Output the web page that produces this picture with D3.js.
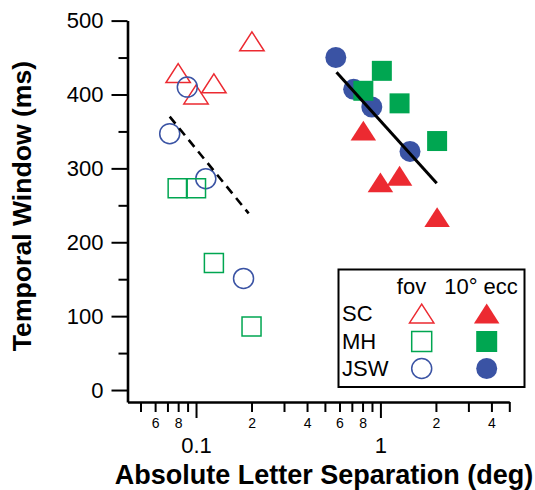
<!DOCTYPE html>
<html>
<head>
<meta charset="utf-8">
<script src="https://cdn.jsdelivr.net/npm/d3@7"></script>
<style>
  body { margin: 0; background: #fff; }
  text { font-family: "Liberation Sans", Arial, Helvetica, sans-serif; fill: #000; }
</style>
</head>
<body>
<div id="chart"></div>
<script>
// ---- data ----
// separation (deg) and temporal window (ms), per observer and condition
var scFovSep = [0.080, 0.100, 0.125, 0.201];
var scFovWin = [429, 400, 415, 472];
var scEccSep = [0.808, 1.00, 1.27, 2.03];
var scEccWin = [351, 281, 290, 234];

var mhFovSep = [0.0795, 0.100, 0.125, 0.200];
var mhFovWin = [273, 273, 172, 86];
var mhEccSep = [1.018, 0.808, 1.27, 2.03];
var mhEccWin = [432, 405, 388, 337];

var jswFovSep = [0.0897, 0.072, 0.113, 0.181];
var jswFovWin = [410, 347, 286, 151];
var jswEccSep = [0.573, 0.716, 0.898, 1.447];
var jswEccWin = [450, 407, 383, 323];

// regression lines (end points)
var fovFitSep = [0.072, 0.193];
var fovFitWin = [370, 239];
var eccFitSep = [0.578, 2.02];
var eccFitWin = [430, 280];

// ticks
var yTicks = [0, 100, 200, 300, 400, 500];
var yMinor = [50, 150, 250, 350, 450];
var xMajor = [0.1, 1];
var xMinor = [0.05, 0.06, 0.07, 0.08, 0.09, 0.2, 0.3, 0.4, 0.5, 0.6, 0.7, 0.8, 0.9, 2, 3, 4, 5];
var xMinorLabeled = [0.06, 0.08, 0.2, 0.4, 0.6, 0.8, 2, 4];

var legendNames = ["SC", "MH", "JSW"];
var legendHeads = ["fov", "10\u00b0 ecc"];

// ---- setup ----
var svgWidth = 535;
var svgHeight = 490;

var red = "#ec2a31";
var green = "#00a651";
var blue = "#3a53a4";

var svg = d3.select("#chart")
  .append("svg")
  .attr("width", svgWidth)
  .attr("height", svgHeight);

var x = d3.scaleLog()
  .domain([0.0425, 5])
  .range([127.5, 509.3]);

var y = d3.scaleLinear()
  .domain([-16.2, 500])
  .range([402, 20.6]);

// marker paths centred on 0,0
function shape(type, s) {
  var h = s / 2;
  if (type === "tri") {
    var w = s * 0.58;
    return "M0," + (-h * 0.9) + "L" + w + "," + (h * 0.9) + "L" + (-w) + "," + (h * 0.9) + "Z";
  }
  if (type === "sq") {
    return "M" + (-h) + "," + (-h) + "H" + h + "V" + h + "H" + (-h) + "Z";
  }
  return d3.arc()({innerRadius: 0, outerRadius: h, startAngle: 0, endAngle: 2 * Math.PI});
}

// ---- axes ----
var yAxisG = svg.append("g").attr("transform", "translate(127.5,0)");
yAxisG.call(d3.axisLeft(y).tickValues(yTicks).tickSize(16).tickSizeOuter(0).tickPadding(8));
var yMinorG = svg.append("g").attr("transform", "translate(127.5,0)");
yMinorG.call(d3.axisLeft(y).tickValues(yMinor).tickSize(9).tickFormat(""));
yMinorG.select(".domain").remove();

var xAxisG = svg.append("g").attr("transform", "translate(0,402)");
xAxisG.call(d3.axisBottom(x).tickValues(xMajor).tickSize(16).tickSizeOuter(0).tickFormat(d3.format("")));
xAxisG.selectAll("text").attr("y", 43).attr("dy", "0.35em").style("font-size", "22px");

var xMinorG = svg.append("g").attr("transform", "translate(0,402)");
xMinorG.call(d3.axisBottom(x).tickValues(xMinor).tickSize(10)
  .tickFormat(function(d) {
    if (xMinorLabeled.indexOf(d) < 0) return "";
    return d < 1 ? Math.round(d * (d < 0.1 ? 100 : 10)) : d;
  }));
xMinorG.select(".domain").remove();
xMinorG.selectAll("text").attr("y", 21).attr("dy", "0.35em").style("font-size", "14px");

svg.selectAll(".domain").attr("stroke", "#000").attr("stroke-width", 2.6);
svg.selectAll(".tick line").attr("stroke", "#000").attr("stroke-width", 2);
yAxisG.selectAll("text").style("font-size", "22px");
svg.selectAll(".tick text").attr("fill", "#000");

// axis titles
svg.append("text")
  .attr("transform", "translate(31,206) rotate(-90)")
  .attr("text-anchor", "middle")
  .style("font-size", "26.6px")
  .style("font-weight", "bold")
  .text("Temporal Window (ms)");

svg.append("text")
  .attr("x", 324)
  .attr("y", 484)
  .attr("text-anchor", "middle")
  .style("font-size", "27px")
  .style("font-weight", "bold")
  .text("Absolute Letter Separation (deg)");

// ---- points ----
function drawPoints(seps, wins, type, size, color, filled) {
  svg.append("g").selectAll("path")
    .data(seps.map(function(s, i) { return [s, wins[i]]; }))
    .enter()
    .append("path")
    .attr("transform", function(d) { return "translate(" + x(d[0]) + "," + y(d[1]) + ")"; })
    .attr("d", shape(type, size))
    .attr("fill", filled ? color : "none")
    .attr("stroke", filled ? "none" : color)
    .attr("stroke-width", 1.5);
}

drawPoints(scFovSep, scFovWin, "tri", 21, red, false);
drawPoints(jswFovSep, jswFovWin, "circ", 20, blue, false);
drawPoints(mhFovSep, mhFovWin, "sq", 19, green, false);

drawPoints(scEccSep, scEccWin, "tri", 22, red, true);
drawPoints(jswEccSep, jswEccWin, "circ", 21, blue, true);
drawPoints(mhEccSep, mhEccWin, "sq", 20, green, true);

// ---- fit lines ----
var line = d3.line()
  .x(function(d) { return x(d[0]); })
  .y(function(d) { return y(d[1]); });

svg.append("path")
  .attr("d", line(fovFitSep.map(function(s, i) { return [s, fovFitWin[i]]; })))
  .attr("fill", "none")
  .attr("stroke", "#000")
  .attr("stroke-width", 2.6)
  .attr("stroke-dasharray", "9,6");

svg.append("path")
  .attr("d", line(eccFitSep.map(function(s, i) { return [s, eccFitWin[i]]; })))
  .attr("fill", "none")
  .attr("stroke", "#000")
  .attr("stroke-width", 3);

// ---- legend ----
var legend = svg.append("g");
legend.append("rect")
  .attr("x", 338.5).attr("y", 269.5)
  .attr("width", 186).attr("height", 117.5)
  .attr("fill", "#fff")
  .attr("stroke", "#000")
  .attr("stroke-width", 2);

var headX = [411.5, 481];
legend.selectAll(".head")
  .data(legendHeads)
  .enter()
  .append("text")
  .attr("x", function(d, i) { return headX[i]; })
  .attr("y", 294)
  .attr("text-anchor", "middle")
  .style("font-size", "22px")
  .text(function(d) { return d; });

var rowY = [313.5, 341.5, 368.5];
var types = ["tri", "sq", "circ"];
var colors = [red, green, blue];
var sizes = [21, 20, 20];

legendNames.forEach(function(name, i) {
  legend.append("text")
    .attr("x", 342)
    .attr("y", rowY[i])
    .attr("dy", "0.35em")
    .style("font-size", "22px")
    .text(name);
  legend.append("path")
    .attr("transform", "translate(421.7," + rowY[i] + ")")
    .attr("d", shape(types[i], sizes[i]))
    .attr("fill", "none")
    .attr("stroke", colors[i])
    .attr("stroke-width", 1.5);
  legend.append("path")
    .attr("transform", "translate(486.7," + rowY[i] + ")")
    .attr("d", shape(types[i], sizes[i] + 1))
    .attr("fill", colors[i]);
});
</script>
</body>
</html>
